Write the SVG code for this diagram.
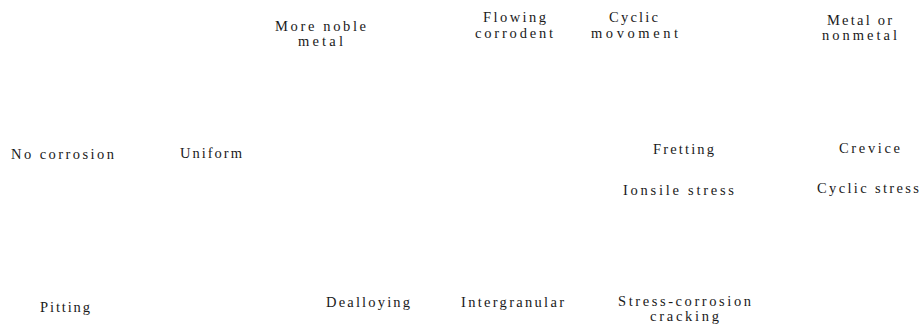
<svg xmlns="http://www.w3.org/2000/svg" width="921" height="324" viewBox="0 0 921 324">
<style>
.t{font-family:'Liberation Serif','DejaVu Serif',serif;font-size:14.5px;fill:#1a1a1a}
</style>
<rect width="921" height="324" fill="#fff"/>
<g id="connectors"></g>
<g id="more-noble-metal" class="t"><text x="275" y="31" textLength="91" lengthAdjust="spacing">More noble</text><text x="298" y="46" textLength="45" lengthAdjust="spacing">metal</text></g>
<g id="flowing-corrodent" class="t"><text x="483" y="22" textLength="63" lengthAdjust="spacing">Flowing</text><text x="475" y="38" textLength="78" lengthAdjust="spacing">corrodent</text></g>
<g id="cyclic-movoment" class="t"><text x="609" y="22" textLength="49" lengthAdjust="spacing">Cyclic</text><text x="591" y="38" textLength="87" lengthAdjust="spacing">movoment</text></g>
<g id="metal-or-nonmetal" class="t"><text x="827" y="25" textLength="65" lengthAdjust="spacing">Metal or</text><text x="822" y="40" textLength="75" lengthAdjust="spacing">nonmetal</text></g>
<g id="no-corrosion" class="t"><text x="11" y="159" textLength="103" lengthAdjust="spacing">No corrosion</text></g>
<g id="uniform" class="t"><text x="180" y="158" textLength="62" lengthAdjust="spacing">Uniform</text></g>
<g id="fretting" class="t"><text x="653" y="154" textLength="61" lengthAdjust="spacing">Fretting</text></g>
<g id="crevice" class="t"><text x="839" y="153" textLength="61" lengthAdjust="spacing">Crevice</text></g>
<g id="ionsile-stress" class="t"><text x="623" y="195" textLength="111" lengthAdjust="spacing">Ionsile stress</text></g>
<g id="cyclic-stress" class="t"><text x="817" y="193" textLength="102" lengthAdjust="spacing">Cyclic stress</text></g>
<g id="pitting" class="t"><text x="40" y="312" textLength="50" lengthAdjust="spacing">Pitting</text></g>
<g id="dealloying" class="t"><text x="326" y="307" textLength="84" lengthAdjust="spacing">Dealloying</text></g>
<g id="intergranular" class="t"><text x="461" y="307" textLength="103" lengthAdjust="spacing">Intergranular</text></g>
<g id="stress-corrosion-cracking" class="t"><text x="618" y="306" textLength="133" lengthAdjust="spacing">Stress-corrosion</text><text x="650" y="321" textLength="69" lengthAdjust="spacing">cracking</text></g>
</svg>
